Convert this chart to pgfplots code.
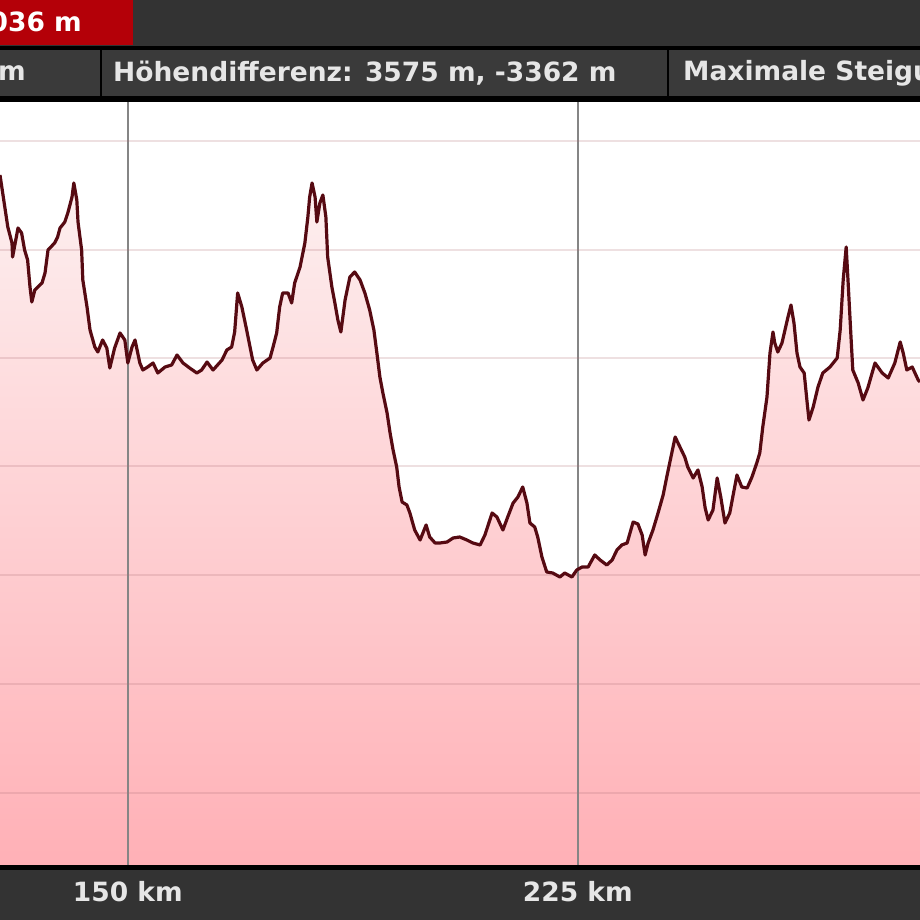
\documentclass[border=0pt]{standalone}
\usepackage{fontspec}
\setmainfont{DejaVu Sans}
\newfontfamily\uifont{DejaVu Sans}[BoldFont={DejaVu Sans Bold}]
\usepackage{pgfplots}
\usepackage{pgfplotstable}
\pgfplotsset{compat=1.18}
\definecolor{hdr}{HTML}{333333}
\definecolor{hdrrow}{HTML}{3A3A3A}
\definecolor{redbox}{HTML}{B40008}
\definecolor{lbl}{HTML}{E6E6E6}
\definecolor{lineRed}{HTML}{560A12}
\definecolor{fillTop}{HTML}{FDF0F0}
\definecolor{fillBot}{HTML}{FFB0B6}
\definecolor{vgrid}{HTML}{858585}
\definecolor{hgrid}{HTML}{B07078}
\newcommand\ui{\uifont\bfseries\fontsize{26.5}{30}\selectfont}

% elevation profile, km / m
\pgfplotstableread{
km elev
128.7 1484
129.5 1420
130.0 1380
130.7 1348
130.8 1320
131.7 1378
132.3 1368
132.8 1334
133.3 1314
133.7 1260
134.0 1230
134.5 1254
135.7 1268
136.2 1288
136.7 1334
137.8 1348
138.3 1360
138.7 1378
139.5 1390
140.0 1408
140.7 1440
141.0 1468
141.5 1434
141.7 1390
142.3 1334
142.5 1274
143.2 1220
143.7 1174
144.5 1140
145.0 1130
145.8 1154
146.5 1138
147.0 1098
147.8 1138
148.7 1168
149.5 1154
150.0 1108
150.7 1140
151.2 1154
152.0 1108
152.5 1094
153.3 1100
154.2 1108
155.0 1088
156.2 1100
157.3 1104
158.2 1124
159.2 1108
160.3 1098
161.5 1088
162.3 1094
163.2 1110
164.2 1094
165.7 1114
166.5 1134
167.3 1140
167.8 1170
168.3 1248
169.0 1220
169.8 1174
170.8 1114
171.5 1094
172.5 1108
173.7 1118
174.2 1140
174.8 1168
175.3 1220
175.8 1248
176.7 1248
177.3 1228
177.8 1268
178.7 1300
179.5 1348
180.0 1400
180.3 1440
180.7 1468
181.2 1440
181.5 1390
182.0 1428
182.5 1444
183.0 1400
183.3 1320
184.0 1260
184.5 1228
185.0 1194
185.5 1170
186.2 1234
187.0 1280
187.8 1290
188.7 1274
189.5 1248
190.3 1214
191.0 1174
191.5 1128
192.0 1080
192.5 1048
193.2 1008
193.7 968
194.2 934
194.8 900
195.2 860
195.7 830
196.5 824
197.0 808
197.8 774
198.7 754
199.7 784
200.3 760
201.2 748
202.0 748
203.2 750
204.2 758
205.3 760
206.5 754
207.5 748
208.7 744
209.5 764
210.7 808
211.5 800
212.5 774
213.3 800
214.2 828
215.0 840
215.8 860
216.5 828
217.0 788
217.8 780
218.3 760
219.0 720
219.8 690
220.8 688
222.0 680
222.8 688
224.0 680
224.8 694
225.7 700
226.7 700
227.8 724
228.7 714
229.8 704
230.7 714
231.5 734
232.3 744
233.2 748
234.2 790
235.0 786
235.7 764
236.2 724
236.7 748
237.5 774
238.3 806
239.2 844
239.8 880
240.5 920
241.2 960
242.0 940
242.8 920
243.3 900
244.2 878
245.0 894
245.7 860
246.2 818
246.7 794
247.5 814
248.2 878
248.8 840
249.5 788
250.3 808
250.8 840
251.5 884
252.3 860
253.2 858
254.0 880
254.8 908
255.3 928
255.8 980
256.5 1040
257.0 1128
257.5 1170
257.8 1148
258.3 1130
259.0 1148
259.5 1174
260.0 1200
260.5 1224
261.0 1188
261.5 1128
262.0 1100
262.7 1088
263.2 1028
263.5 994
264.2 1020
265.0 1060
265.8 1088
267.0 1100
268.2 1118
268.7 1174
269.2 1274
269.7 1340
270.0 1274
270.5 1160
270.8 1094
271.7 1068
272.5 1034
273.3 1058
274.5 1108
275.7 1088
276.7 1078
277.8 1108
278.7 1150
279.2 1128
279.8 1094
280.7 1100
281.7 1074
282.0 1070
}\profile

\pgfplotsset{set layers}

\begin{document}
\begin{tikzpicture}
\begin{axis}[
  scale only axis,
  width=920pt, height=765pt,
  at={(0pt,0pt)}, anchor=south west,
  xmin=128.7, xmax=282.0,
  ymin=100, ymax=1630,
  axis line style={draw=none},
  xtick={150,225},
  xticklabels={150 km,225 km},
  ytick={248,466,684,902,1118,1334,1552},
  yticklabels={},
  major tick length=0pt,
  xmajorgrids, ymajorgrids,
  major x grid style={color=vgrid, line width=2pt},
  major y grid style={color=hgrid, opacity=0.22, line width=2.5pt},
  xticklabel style={font=\ui, text=lbl, anchor=center, yshift=-25pt},
]
\addplot[draw=none, top color=fillTop, bottom color=fillBot, on layer=axis background]
  table {\profile} \closedcycle;
\addplot[color=lineRed, line width=3.2pt, line join=round] table {\profile};
\end{axis}

% footer and frame line
\fill[hdr] (0pt,-53pt) rectangle (920pt,-2pt);
\fill[black] (0pt,-3pt) rectangle (920pt,1.5pt);
\node[font=\ui, text=lbl] at (127.8pt,-25pt) {150 km};
\node[font=\ui, text=lbl] at (577.8pt,-25pt) {225 km};

% header
\begin{scope}
\clip (0pt,765pt) rectangle (920pt,867pt);
\fill[hdr] (0pt,765pt) rectangle (920pt,867pt);
\fill[redbox] (0pt,822pt) rectangle (133pt,867pt);
\node[font=\ui, text=white, anchor=east, inner sep=0pt] at (82pt,845pt) {036 m};
\fill[black] (0pt,817pt) rectangle (920pt,821pt);
\fill[hdrrow] (0pt,770pt) rectangle (920pt,817pt);
\fill[black] (99.5pt,770pt) rectangle (102pt,817pt);
\fill[black] (666.5pt,770pt) rectangle (669pt,817pt);
\fill[black] (0pt,765pt) rectangle (920pt,771pt);
\node[font=\ui, text=lbl, anchor=east, inner sep=0pt] at (26pt,794pt) {m};
\node[font=\ui, text=lbl, anchor=west, inner sep=0pt] at (113pt,794pt) {Höhendifferenz: 3575 m, -3362 m};
\node[font=\ui, text=lbl, anchor=west, inner sep=0pt] at (683pt,794pt) {Maximale Steigung: 12 \%};
\end{scope}

\pgfresetboundingbox
\useasboundingbox (0pt,-53pt) rectangle (920pt,867pt);
\end{tikzpicture}
\end{document}
